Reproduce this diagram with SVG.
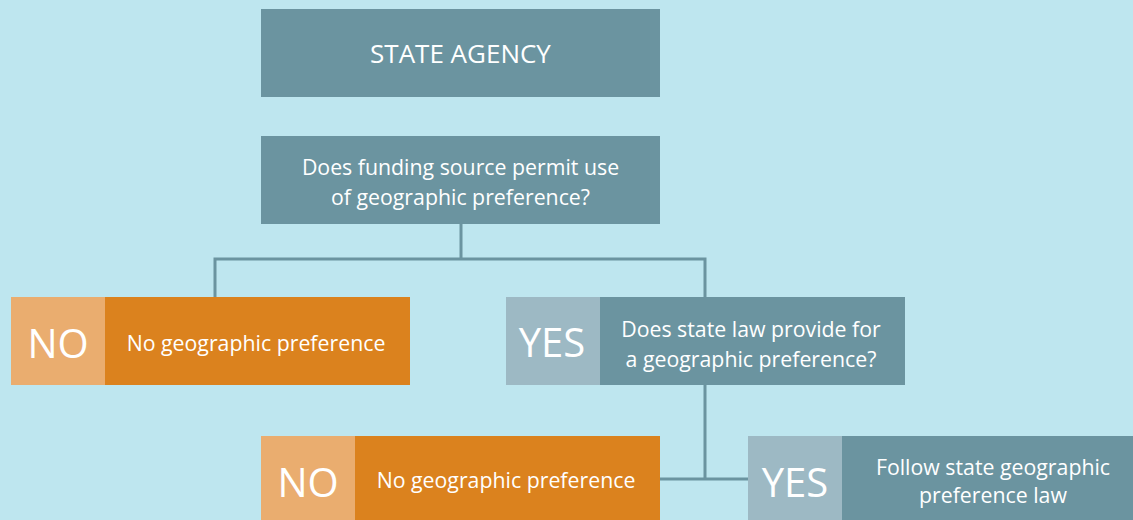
<svg xmlns="http://www.w3.org/2000/svg" width="1133" height="520" viewBox="0 0 1133 520">
<style>
.bg{fill:#BEE6EF}
.dark{fill:#6B94A0}
.lite{fill:#9DB9C4}
.or{fill:#DB821E}
.orl{fill:#EAAD6F}
text{font-family:"Open Sans","Noto Sans","DejaVu Sans",sans-serif;fill:#FFFFFF;text-anchor:middle}
.t{font-size:21.3px}
.h{font-size:26px}
.big{font-size:40px}
.conn{stroke:#6B94A0;stroke-width:3;fill:none}
</style>
<rect class="bg" x="0" y="0" width="1133" height="520"/>
<g id="connectors">
<path class="conn" d="M461,224 V259 M215,297 V259 H705 V297 M705,385 V479 M660,479 H748"/>
</g>
<g id="state-agency">
<rect class="dark" x="261" y="9" width="399" height="88"/>
<text class="h" x="460.5" y="63">STATE AGENCY</text>
</g>
<g id="funding-question">
<rect class="dark" x="261" y="136" width="399" height="88"/>
<text class="t" x="460.5" y="175">Does funding source permit use</text>
<text class="t" x="460.5" y="205">of geographic preference?</text>
</g>
<g id="no-1">
<rect class="orl" x="11" y="297" width="94" height="88"/>
<rect class="or" x="105" y="297" width="305" height="88"/>
<text class="big" x="58" y="358">NO</text>
<text class="t" x="256" y="351">No geographic preference</text>
</g>
<g id="yes-1">
<rect class="lite" x="506" y="297" width="94" height="88"/>
<rect class="dark" x="600" y="297" width="305" height="88"/>
<text class="big" x="552" y="357">YES</text>
<text class="t" x="751" y="337">Does state law provide for</text>
<text class="t" x="751" y="367">a geographic preference?</text>
</g>
<g id="no-2">
<rect class="orl" x="261" y="436" width="94" height="84"/>
<rect class="or" x="355" y="436" width="305" height="84"/>
<text class="big" x="308" y="497">NO</text>
<text class="t" x="506" y="488">No geographic preference</text>
</g>
<g id="yes-2">
<rect class="lite" x="748" y="436" width="94" height="84"/>
<rect class="dark" x="842" y="436" width="291" height="84"/>
<text class="big" x="795" y="497">YES</text>
<text class="t" x="993" y="475">Follow state geographic</text>
<text class="t" x="993" y="503">preference law</text>
</g>
</svg>
